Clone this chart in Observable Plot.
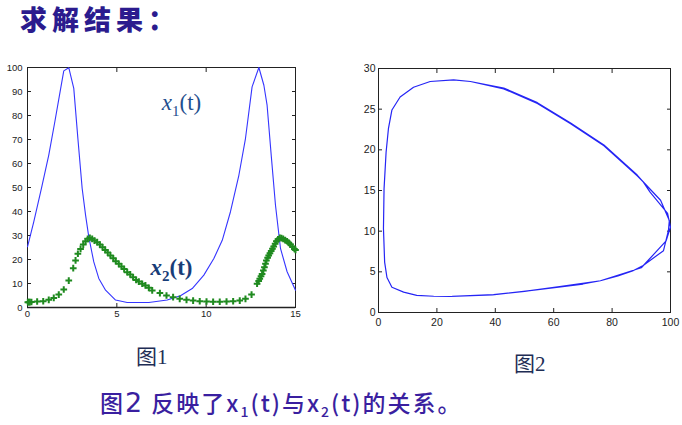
<!DOCTYPE html>
<html><head><meta charset="utf-8">
<script src="https://cdn.jsdelivr.net/npm/d3@7"></script>
<script src="https://cdn.jsdelivr.net/npm/@observablehq/plot@0.6"></script>
<style>
html,body{margin:0;padding:0;background:#fff;}
#page{position:relative;width:682px;height:425px;overflow:hidden;background:#fff;}
.abs{position:absolute;margin:0;}
#title{left:20px;top:0px;font-family:"Noto Sans CJK SC";font-weight:900;font-size:27px;color:#2b1b8e;letter-spacing:5px;line-height:38px;white-space:nowrap;}
.cap{font-family:"Liberation Serif","Noto Sans CJK SC";font-size:21px;color:#1e2d55;line-height:24px;white-space:nowrap;}
#cap1{left:136px;top:345px;}
#cap2{left:514px;top:352px;}
#note{left:100px;top:386px;font-family:"Noto Sans CJK SC";font-weight:500;font-size:23px;color:#3a1fa0;line-height:32px;white-space:nowrap;letter-spacing:2px;}
#note sub{font-size:14px;vertical-align:-5px;line-height:0;}
#note .big{font-size:27px;font-family:"DejaVu Sans";font-weight:400;}
#p1{left:0;top:55px;}
#p2{left:350px;top:55px;}
</style>
</head><body>
<div id="page">
  <div id="title" class="abs">求解结果：</div>
  <div id="p1" class="abs"></div>
  <div id="p2" class="abs"></div>
  <div id="cap1" class="abs cap">图1</div>
  <div id="cap2" class="abs cap">图2</div>
  <div id="note" class="abs">图<span class="big">2</span> 反映了x<sub>1</sub>(t)与x<sub>2</sub>(t)的关系。</div>
</div>
<script>
// ---- Figure 1 data: x1(t) line, x2(t) markers ----
const tX1 = [0,0.35,0.78,1.19,1.53,1.85,2.03,2.31,2.59,2.82,3.06,3.25,3.43,3.71,3.99,4.37,4.93,5.58,6.79,7.82,8.56,9.22,9.87,10.43,10.9,11.36,11.83,12.2,12.57,12.95,13.23,13.41,13.64,13.88,14.16,14.53,15];
const x1 = [25.3,35.7,49.6,63.5,77.4,91,98.6,99.9,91.3,70.4,49.6,38.5,29.4,19,12.1,7.2,3.1,2.1,2.1,3.1,4.9,7.9,13.5,20.4,28,39.9,55.1,70.4,91.9,100,92.6,84.3,63.5,42.6,24.6,14.9,7.2];
const tX2 = [0.02,0.08,0.13,0.22,0.54,0.88,1.19,1.47,1.75,2.03,2.31,2.56,2.69,2.82,2.97,3.12,3.25,3.37,3.49,3.62,3.75,3.90,4.05,4.20,4.35,4.49,4.64,4.80,4.94,5.11,5.26,5.41,5.58,5.75,5.91,6.08,6.23,6.42,6.60,6.79,6.98,7.41,7.78,8.15,8.52,8.90,9.27,9.64,10.02,10.39,10.76,11.14,11.51,11.88,12.20,12.54,12.85,12.94,13.00,13.07,13.13,13.20,13.26,13.32,13.37,13.44,13.50,13.57,13.64,13.71,13.78,13.86,13.93,14.02,14.12,14.21,14.31,14.42,14.53,14.63,14.72,14.83,14.94,15.0];
const x2 = [2.2,2.2,2.2,2.3,2.5,2.6,3.2,4.0,5.4,7.5,11.2,16.4,19.6,22.4,24.4,26.2,27.6,28.6,29.0,28.6,27.9,27.2,26.2,25.1,24.0,22.9,21.7,20.5,19.3,18.2,17.1,16.0,14.7,13.8,12.6,11.5,10.8,9.9,9.2,8.2,7.1,6.0,5.0,4.3,3.6,3.2,2.9,2.6,2.5,2.4,2.4,2.5,2.6,2.9,3.6,5.4,9.9,11.0,12.0,13.0,14.0,15.4,16.8,18.2,19.6,20.7,21.7,22.6,23.5,24.5,25.4,26.6,27.6,28.4,29.0,28.9,28.6,28.1,27.6,26.9,26.2,25.3,24.4,24.0];
const xTicks1 = [0,5,10,15];
const yTicks1 = [0,10,20,30,40,50,60,70,80,90,100];
const labelT = [8.62, 8.06];
const labelV = [85.4, 16.7];
const labelSub = ["1","2"];

// ---- Figure 2 data: phase trajectory (x1 on x, x2 on y) ----
const phaseX1 = [25.3,39.4,49.7,61,70,76,82,87,90.3,97.6,99.3,99.6,96.6,90.3,88.6,77.2,65.8,54.4,42.9,31.5,25.7,17.7,12,7.4,4.6,3.4,2.6,1.9,1.7,2.1,2.9,4.6,8.6,13.1,18.9,24.6,39,50,62,76,90,98.5,100,99,93,90.6,88.6,77.2,65.8,54.4,42.9,31.5,25.7,17.7,12,7.4];
const phaseX2 = [2.0,2.2,2.6,3.1,3.5,3.9,4.5,5.1,5.7,7.6,10.1,11.3,13.8,16.2,16.8,20.5,23.2,25.7,27.5,28.4,28.6,28.4,27.7,26.5,24.9,22.6,19.7,15.2,10.3,6.2,4.3,3.1,2.5,2.1,2.0,1.97,2.15,2.6,3.2,3.9,5.5,8.8,10.5,12.2,14.8,16.1,16.9,20.6,23.3,25.8,27.6,28.4,28.6,28.4,27.7,26.5];
const xTicks2 = [0,20,40,60,80,100];
const yTicks2 = [0,5,10,15,20,25,30];

const lineData = tX1.map((t,i)=>({t, v:x1[i]}));
const dotData = tX2.map((t,i)=>({t, v:x2[i]}));
const labels = labelT.map((t,i)=>({t, v:labelV[i], sub:labelSub[i]}));
const phase = phaseX1.map((a,i)=>({a, b:phaseX2[i]}));

const blank = () => "";

const plot1 = Plot.plot({
  width: 305, height: 275,
  marginLeft: 27, marginRight: 10, marginTop: 12, marginBottom: 23,
  style: {fontSize: "9.5px", fontFamily: "Liberation Sans, Arial, sans-serif", color: "#222", background: "transparent"},
  x: {domain: [0,15], label: null},
  y: {domain: [0,100], label: null},
  marks: [
    Plot.frame({stroke: "#222"}),
    Plot.ruleY([0], {stroke: "#222", strokeWidth: 1.6}),
    Plot.axisX({ticks: xTicks1, tickSize: -4, tickPadding: 7, label: null}),
    Plot.axisX({anchor: "top", ticks: xTicks1, tickSize: -4, tickFormat: blank, label: null}),
    Plot.axisY({ticks: yTicks1, tickSize: -4, tickPadding: 9, label: null}),
    Plot.axisY({anchor: "right", ticks: yTicks1, tickSize: -4, tickFormat: blank, label: null}),
    Plot.line(lineData, {x: "t", y: "v", stroke: "#3535ff", strokeWidth: 1.1}),
    Plot.dot(dotData, {x: "t", y: "v", symbol: "plus", r: 2.3, fill: "#1f8a1f", stroke: "#1f8a1f", strokeWidth: 2}),
    Plot.text(labels, {x: "t", y: "v", text: d => "x" + d.sub + "(t)", fontSize: 23, fontFamily: "Liberation Serif, DejaVu Serif, serif",
      fill: (d) => d.sub === "1" ? "#1f4f8e" : "#183d78"})
  ]
});

// rich-text the labels: italic x, subscript index; x2 label is bold
d3.select(plot1).selectAll("g[aria-label='text'] text").each(function(d, i) {
  const lab = labels[i];
  const el = d3.select(this);
  el.text(null);
  if (lab.sub === "2") el.attr("font-weight", "bold");
  el.append("tspan").attr("font-style", "italic").text("x");
  el.append("tspan").attr("font-size", 15).attr("dy", 6).text(lab.sub);
  el.append("tspan").attr("dy", -6).text("(t)");
});
document.getElementById("p1").appendChild(plot1);

const plot2 = Plot.plot({
  width: 332, height: 280,
  marginLeft: 28, marginRight: 12, marginTop: 13, marginBottom: 23,
  style: {fontSize: "10.5px", fontFamily: "Liberation Sans, Arial, sans-serif", color: "#222", background: "transparent"},
  x: {domain: [0,100], label: null},
  y: {domain: [0,30], label: null},
  marks: [
    Plot.frame({stroke: "#222"}),
    Plot.axisX({ticks: xTicks2, tickSize: -4, tickPadding: 10, label: null}),
    Plot.axisX({anchor: "top", ticks: xTicks2, tickSize: -4, tickFormat: blank, label: null}),
    Plot.axisY({ticks: yTicks2, tickSize: -4, tickPadding: 7, label: null}),
    Plot.axisY({anchor: "right", ticks: yTicks2, tickSize: -4, tickFormat: blank, label: null}),
    Plot.line(phase, {x: "a", y: "b", stroke: "#2525f5", strokeWidth: 1.2, curve: "linear"})
  ]
});
document.getElementById("p2").appendChild(plot2);
</script>
</body></html>
